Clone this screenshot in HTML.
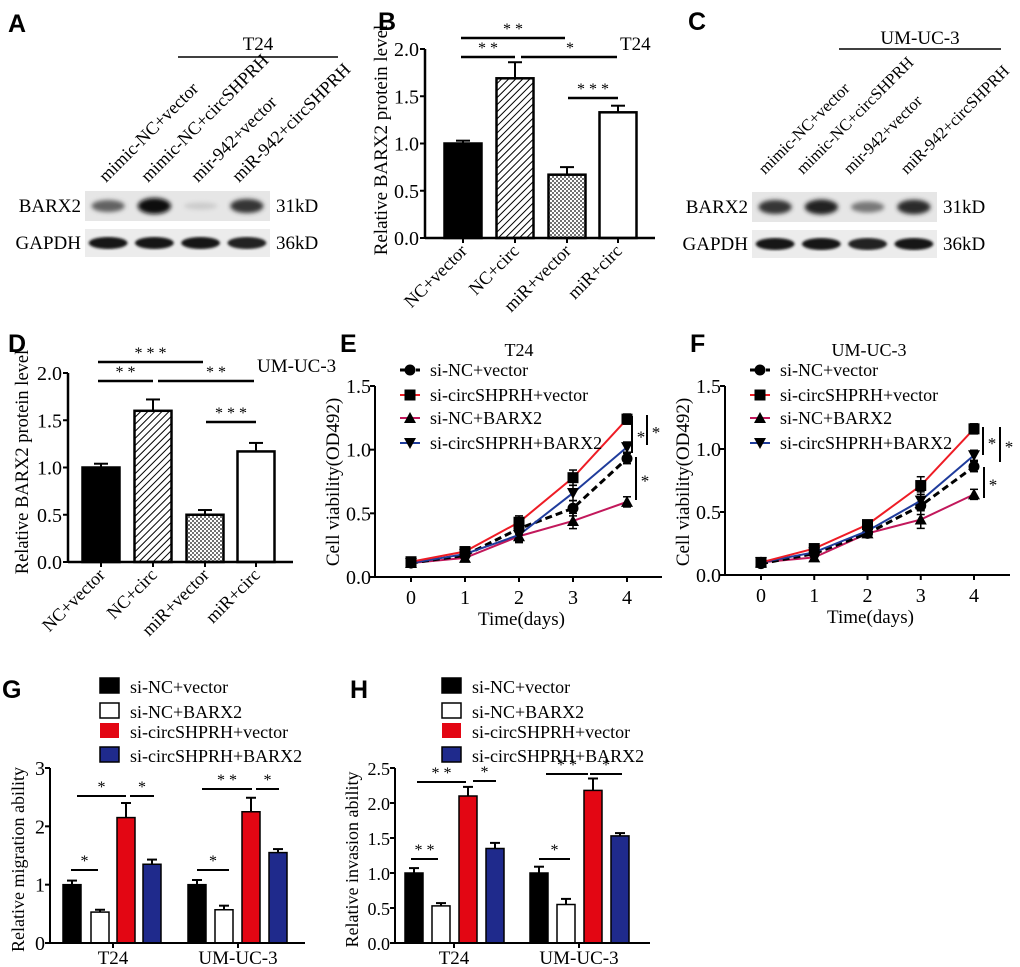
<!DOCTYPE html>
<html><head><meta charset="utf-8"><style>
html,body{margin:0;padding:0;background:#fff;}
svg{display:block;font-family:"Liberation Serif",serif;}
.pl{font-family:"Liberation Sans",sans-serif;font-weight:bold;font-size:25px;}
</style></head><body>
<svg id="fig" width="1020" height="967" viewBox="0 0 1020 967" xmlns="http://www.w3.org/2000/svg">
<defs>
<pattern id="hatch" patternUnits="userSpaceOnUse" width="5" height="5" patternTransform="rotate(45)"><rect width="5" height="5" fill="#fff"/><line x1="0" y1="0" x2="0" y2="5" stroke="#000" stroke-width="2"/></pattern>
<pattern id="dots" patternUnits="userSpaceOnUse" width="4" height="4"><rect width="4" height="4" fill="#fff"/><circle cx="1" cy="1" r="1" fill="#444"/><circle cx="3" cy="3" r="1" fill="#444"/></pattern>
<filter id="blur" x="-30%" y="-80%" width="160%" height="260%"><feGaussianBlur stdDeviation="2.2"/></filter>
<filter id="blur2"><feGaussianBlur stdDeviation="1.2"/></filter>
</defs>
<g id="root"></g>
</svg>
<script>
// ---------- data ----------
const blotLanesA = ["mimic-NC+vector","mimic-NC+circSHPRH","mir-942+vector","miR-942+circSHPRH"];
const barx2IntensityA = [0.6, 1.0, 0.12, 0.8];
const gapdhIntensityA = [0.95, 0.95, 0.95, 0.9];
const barx2IntensityC = [0.8, 0.9, 0.5, 0.85];
const gapdhIntensityC = [0.95, 0.95, 0.9, 0.95];
const barCats = ["NC+vector","NC+circ","miR+vector","miR+circ"];
const bValues = [1.0, 1.69, 0.67, 1.33];
const bErrors = [0.03, 0.17, 0.08, 0.07];
const dValues = [1.0, 1.6, 0.5, 1.17];
const dErrors = [0.04, 0.12, 0.05, 0.09];
const barTicks = [0, 0.5, 1.0, 1.5, 2.0];
const barTickLabels = ["0.0","0.5","1.0","1.5","2.0"];
const days = [0,1,2,3,4];
const lineSeriesNames = ["si-NC+vector","si-circSHPRH+vector","si-NC+BARX2","si-circSHPRH+BARX2"];
const eNCvector = [0.11, 0.17, 0.38, 0.54, 0.93];
const eCircVector = [0.12, 0.20, 0.43, 0.78, 1.24];
const eNCBarx2 = [0.11, 0.15, 0.32, 0.44, 0.59];
const eCircBarx2 = [0.11, 0.18, 0.33, 0.66, 1.02];
const eErr = [0.02, 0.03, 0.05, 0.06, 0.04];
const fNCvector = [0.09, 0.17, 0.33, 0.55, 0.86];
const fCircVector = [0.10, 0.21, 0.40, 0.71, 1.16];
const fNCBarx2 = [0.10, 0.14, 0.33, 0.44, 0.64];
const fCircBarx2 = [0.10, 0.18, 0.35, 0.59, 0.95];
const fErr = [0.02, 0.03, 0.03, 0.07, 0.04];
const lineTicks = [0, 0.5, 1.0, 1.5];
const lineTickLabels = ["0.0","0.5","1.0","1.5"];
const groups = ["T24","UM-UC-3"];
const gGroupNames = ["si-NC+vector","si-NC+BARX2","si-circSHPRH+vector","si-circSHPRH+BARX2"];
const gT24 = [1.0, 0.53, 2.15, 1.35];
const gT24Err = [0.07, 0.04, 0.25, 0.08];
const gUM = [1.0, 0.57, 2.25, 1.55];
const gUMErr = [0.08, 0.07, 0.24, 0.06];
const gTicks = [0,1,2,3];
const gTickLabels = ["0","1","2","3"];
const hT24 = [1.0, 0.53, 2.1, 1.35];
const hT24Err = [0.07, 0.04, 0.13, 0.08];
const hUM = [1.0, 0.55, 2.18, 1.53];
const hUMErr = [0.09, 0.08, 0.17, 0.04];
const hTicks = [0,0.5,1.0,1.5,2.0,2.5];
const hTickLabels = ["0.0","0.5","1.0","1.5","2.0","2.5"];

// ---------- helpers ----------
const NS="http://www.w3.org/2000/svg";
const root=document.getElementById('root');
function mk(tag, attrs, name, parent, txt){
  const el=document.createElementNS(NS,tag);
  for(const k in attrs) el.setAttribute(k,attrs[k]);
  
  
  if(txt!==undefined) el.textContent=txt;
  (parent||root).appendChild(el);
  return el;
}
function line(x1,y1,x2,y2,name,p,w,c,dash){
  const a={x1,y1,x2,y2,stroke:c||'#000','stroke-width':w||2};
  if(dash) a['stroke-dasharray']=dash;
  return mk('line',a,name,p);
}
function text(x,y,s,name,p,size,anchor,extra){
  const a={x,y,'font-size':size||17,'text-anchor':anchor||'start',fill:'#000'};
  if(extra) for(const k in extra) a[k]=extra[k];
  return mk('text',a,name,p,s);
}
function panelLabel(x,y,s){
  const t=text(x,y,s,'panel-label-'+s.toLowerCase(),root,25);
  t.setAttribute('class','pl');
}

// ---------- Western blots ----------
function blot(x0,yB,yG,w,lanes,bI,gI,labels,lx,ly,lstep,lsize,cell,cellX,cellY,lineX1,lineX2,lineY,pfx){
  const g=mk('g',{},pfx+'-western-blot');
  mk('rect',{x:x0,y:yB,width:w,height:30,fill:'#e6e6e6'},'barx2-blot-strip',g);
  mk('rect',{x:x0,y:yG,width:w,height:28,fill:'#ececec'},'gapdh-blot-strip',g);
  const lw=w/lanes.length;
  lanes.forEach((l,i)=>{
    const cx=x0+lw*(i+0.5);
    const c1=Math.round(230-220*bI[i]);
    mk('ellipse',{cx,cy:yB+15,rx:lw*0.36,ry:3+5*bI[i],fill:`rgb(${c1},${c1},${c1})`,filter:'url(#blur)'},'barx2-band',g);
    const c2=Math.round(230-220*gI[i]);
    mk('ellipse',{cx,cy:yG+14,rx:lw*0.42,ry:6,fill:`rgb(${c2},${c2},${c2})`,filter:'url(#blur2)'},'gapdh-band',g);
    const t=text(lx+lstep[i],ly,l,'lane-label',g,lsize);
    t.setAttribute('transform',`rotate(-45 ${lx+lstep[i]} ${ly})`);
  });
  text(x0-4,yB+21,'BARX2','barx2-label',g,19,'end');
  text(x0-4,yG+20,'GAPDH','gapdh-label',g,19,'end');
  text(x0+w+6,yB+21,'31kD','barx2-size-label',g,19);
  text(x0+w+6,yG+20,'36kD','gapdh-size-label',g,19);
  line(lineX1,lineY,lineX2,lineY,'cell-line-bar',g,1.5);
  text(cellX,cellY,cell,'cell-line-label',g,19,'middle');
}
panelLabel(8,32,'A');
blot(85,191,229,185,blotLanesA,barx2IntensityA,gapdhIntensityA,blotLanesA,106,183,[0,42,92,133],18,'T24',258,50,178,338,57,'a');
panelLabel(688,30,'C');
blot(752,192,230,185,blotLanesA,barx2IntensityC,gapdhIntensityC,blotLanesA,765,175,[0,38,85,142],16.5,'UM-UC-3',920,44,839,1001,49,'c');

// ---------- B & D bar charts ----------
function protChart(pfx,x0,y0,xend,centers,vals,errs,sig,cellText,cellX,cellY,ylx,yly,ylsize){
  const k=94.5, bw=37;
  const Y=v=>y0-v*k;
  const g=mk('g',{},pfx+'-bar-chart');
  const fills=['#000','url(#hatch)','url(#dots)','#fff'];
  vals.forEach((v,i)=>{
    const cx=centers[i];
    line(cx,Y(v),cx,Y(v+errs[i]),'error-bar',g,2);
    line(cx-7,Y(v+errs[i]),cx+7,Y(v+errs[i]),'error-cap',g,2);
    mk('rect',{x:cx-bw/2,y:Y(v),width:bw,height:v*k,fill:fills[i],stroke:'#000','stroke-width':2.5},'bar-'+barCats[i].toLowerCase().replace('+','-'),g);
    line(cx,y0,cx,y0+5,'x-tick',g,2);
    const t=text(cx+5,y0+14,barCats[i],'x-tick-label',g,18,'end');
    t.setAttribute('transform',`rotate(-45 ${cx+5} ${y0+14})`);
  });
  line(x0,y0,xend,y0,'x-axis',g,2.5);
  line(x0,y0+1,x0,Y(2.0),'y-axis',g,2.5);
  barTicks.forEach((t,i)=>{
    line(x0-5,Y(t),x0,Y(t),'y-tick',g,2);
    text(x0-6,Y(t)+7,barTickLabels[i],'y-tick-label',g,20,'end');
  });
  const yl=text(ylx,yly,'Relative BARX2 protein level','y-axis-title',g,ylsize,'middle');
  yl.setAttribute('transform',`rotate(-90 ${ylx} ${yly})`);
  sig.forEach(s=>{
    line(s[0],s[2],s[1],s[2],'significance-line',g,2.5);
    text(s[3]!==undefined?s[3]:(s[0]+s[1])/2,s[2]-4,s[4],'significance-stars',g,16,'middle');
  });
  text(cellX,cellY,cellText,'cell-line-label',g,19,'start');
}
panelLabel(378,30,'B');
protChart('b',425,238,655,[463,515,567,618],bValues,bErrors,
  [[461,515,57,undefined,'* *'],[461,565,38,undefined,'* *'],[521,617,57,570,'*'],[568,618,98,undefined,'* * *']],
  'T24',620,50,387,140,19);
panelLabel(8,352,'D');
protChart('d',68,562,293,[101,153,205,256],dValues,dErrors,
  [[98,203,362,undefined,'* * *'],[98,153,381,undefined,'* *'],[158,254,381,216,'* *'],[206,256,422,undefined,'* * *']],
  'UM-UC-3',257,372,28,462,18.5);

// ---------- E & F line charts ----------
function lineChart(pfx,x0,xend,y0,x0d,dx,series,err,title,titleX,sig){
  const k=(y0-386)/1.5;
  const X=d=>x0d+d*dx, Y=v=>y0-v*k;
  const g=mk('g',{},pfx+'-line-chart');
  const cols=['#000','#ee1c25','#c2185b','#1f3c9c'];
  const markers=['circle','square','tri','itri'];
  function marker(cx,cy,m,name,p){
    if(m==='circle') mk('circle',{cx,cy,r:5.5,fill:'#000'},name,p);
    else if(m==='square') mk('rect',{x:cx-5.5,y:cy-5.5,width:11,height:11,fill:'#000'},name,p);
    else if(m==='tri') mk('polygon',{points:`${cx},${cy-6} ${cx-6},${cy+5} ${cx+6},${cy+5}`,fill:'#000'},name,p);
    else mk('polygon',{points:`${cx},${cy+6} ${cx-6},${cy-5} ${cx+6},${cy-5}`,fill:'#000'},name,p);
  }
  line(x0,y0,xend,y0,'x-axis',g,2);
  line(x0,y0,x0,386,'y-axis',g,2);
  lineTicks.forEach((t,i)=>{
    line(x0-5,Y(t),x0,Y(t),'y-tick',g,2);
    text(x0-4,Y(t)+7,lineTickLabels[i],'y-tick-label',g,20,'end');
  });
  days.forEach(d=>{
    line(X(d),y0,X(d),y0+5,'x-tick',g,2);
    text(X(d),y0+27,String(d),'x-tick-label',g,20,'middle');
  });
  text((x0+xend)/2+3,y0+48,'Time(days)','x-axis-title',g,19,'middle');
  const yl=text(x0-36,482,'Cell viability(OD492)','y-axis-title',g,19,'middle');
  yl.setAttribute('transform',`rotate(-90 ${x0-36} 482)`);
  text(titleX,356,title,'chart-title',g,18,'middle');
  const order=[2,0,3,1];
  order.forEach(si=>{
    const vals=series[si];
    const pts=vals.map((v,i)=>X(days[i])+','+Y(v)).join(' ');
    mk('polyline',{points:pts,fill:'none',stroke:cols[si],'stroke-width':si===0?3:2,'stroke-dasharray':si===0?'7,4':'none'},'series-'+lineSeriesNames[si].toLowerCase(),g);
    vals.forEach((v,i)=>{
      line(X(days[i]),Y(v-err[i]),X(days[i]),Y(v+err[i]),'error-bar',g,1.5);
      line(X(days[i])-4,Y(v+err[i]),X(days[i])+4,Y(v+err[i]),'error-cap',g,1.5);
      line(X(days[i])-4,Y(v-err[i]),X(days[i])+4,Y(v-err[i]),'error-cap',g,1.5);
      marker(X(days[i]),Y(v),markers[si],'data-point',g);
    });
  });
  const lx=x0+25, ly=[370,395,418,443];
  lineSeriesNames.forEach((n,i)=>{
    const lg=mk('g',{},'legend-entry',g);
    line(lx,ly[i],lx+20,ly[i],'legend-line',lg,i===0?3:2,cols[i],i===0?'5,3':'none');
    marker(lx+10,ly[i],markers[i],'legend-marker',lg);
    text(lx+30,ly[i]+6,n,'legend-label',lg,18);
  });
  sig.forEach(s=>{
    line(s[0],s[1],s[0],s[2],'significance-bracket',g,2);
    text(s[0]+9,(s[1]+s[2])/2+8,'*','significance-star',g,17,'middle');
  });
}
panelLabel(340,352,'E');
lineChart('e',375,662,577,411,54,[eNCvector,eCircVector,eNCBarx2,eCircBarx2],eErr,'T24',519,
  [[632,416,453],[647,415,445],[636,457,500]]);
panelLabel(690,352,'F');
lineChart('f',725,1010,575,761,53.25,[fNCvector,fCircVector,fNCBarx2,fCircBarx2],fErr,'UM-UC-3',869,
  [[983,427,455],[1000,427,462],[984,467,498]]);

// ---------- G & H grouped bars ----------
function groupChart(pfx,x0,xend,y0,top,ticks,tickLabels,k,centers,vals,errs,ytitle,tickX,legX,sig,fontTick,yx){
  const g=mk('g',{},pfx+'-grouped-bar-chart');
  const Y=v=>y0-v*k;
  const fills=['#000','#fff','#e30613','#1f2a8c'];
  const ly=[686,711,731,755];
  gGroupNames.forEach((n,i)=>{
    const lg=mk('g',{},'legend-entry',g);
    mk('rect',{x:legX,y:ly[i]-8,width:19,height:15,fill:fills[i],stroke:i===2?'none':'#000','stroke-width':1.5},'legend-swatch',lg);
    text(legX+30,ly[i]+7,n,'legend-label',lg,18);
  });
  vals.forEach((grp,gi)=>{
    grp.forEach((v,i)=>{
      const cx=centers[gi][i];
      line(cx,Y(v),cx,Y(v+errs[gi][i]),'error-bar',g,2);
      line(cx-5,Y(v+errs[gi][i]),cx+5,Y(v+errs[gi][i]),'error-cap',g,2);
      mk('rect',{x:cx-9,y:Y(v),width:18,height:v*k,fill:fills[i],stroke:'#000','stroke-width':1.5},'bar-'+groups[gi].toLowerCase()+'-'+(i+1),g);
    });
    line(tickX[gi],y0,tickX[gi],y0+5,'x-tick',g,2);
    text(tickX[gi],y0+21,groups[gi],'x-tick-label',g,19,'middle');
  });
  line(x0,y0,xend,y0,'x-axis',g,2);
  line(x0,y0,x0,top,'y-axis',g,2);
  ticks.forEach((t,i)=>{
    line(x0-5,Y(t),x0,Y(t),'y-tick',g,2);
    text(x0-5,Y(t)+7,tickLabels[i],'y-tick-label',g,fontTick,'end');
  });
  const yy=(y0+top)/2+4;
  const yl=text(yx,yy,ytitle,'y-axis-title',g,18,'middle');
  yl.setAttribute('transform',`rotate(-90 ${yx} ${yy})`);
  sig.forEach(s=>{
    line(s[0],s[2],s[1],s[2],'significance-line',g,2);
    text((s[0]+s[1])/2,s[2]-4,s[3],'significance-stars',g,16,'middle');
  });
}
panelLabel(2,698,'G');
groupChart('g',50,305,943,768,gTicks,gTickLabels,58.33,
  [[72,100,126,152],[197,224,251,278]],[gT24,gUM],[gT24Err,gUMErr],'Relative migration ability',[113,238],100,
  [[71,98,870,'*'],[77,126,796,'*'],[130,154,796,'*'],[197,229,870,'*'],[202,252,789,'* *'],[256,279,789,'*']],20,24);
panelLabel(350,698,'H');
groupChart('h',395,650,943,768,hTicks,hTickLabels,70,
  [[414,441,468,495],[539,566,593,620]],[hT24,hUM],[hT24Err,hUMErr],'Relative invasion ability',[454,579],442,
  [[411,438,859,'* *'],[417,466,782,'* *'],[473,496,781,'*'],[539,570,859,'*'],[546,588,774,'* *'],[590,622,774,'*']],18,358);
</script>
</body></html>
